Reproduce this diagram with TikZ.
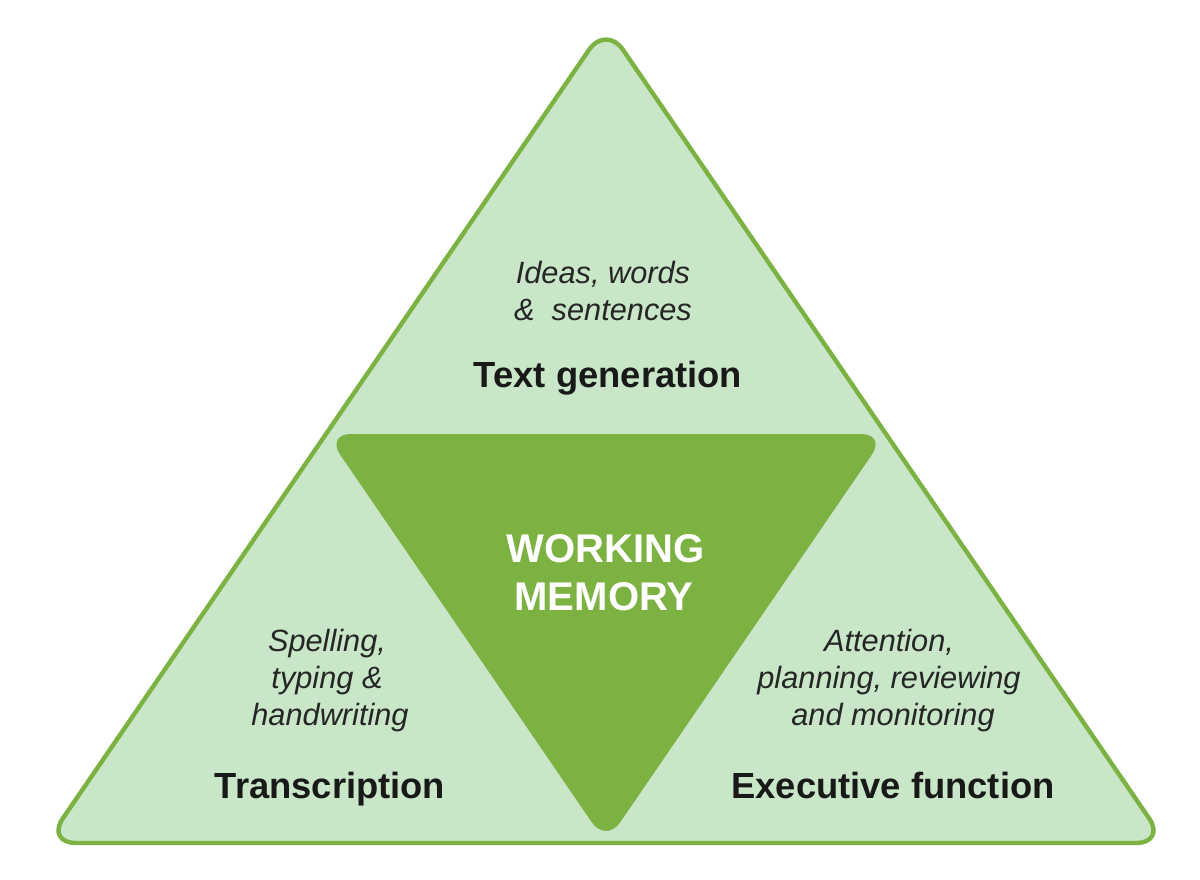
\documentclass[tikz,border=0pt]{standalone}
\usepackage{fontspec}
\setmainfont{Liberation Sans}
\usepackage{xcolor}
\usetikzlibrary{calc}
\definecolor{leaf}{RGB}{124,178,66}
\definecolor{mint}{RGB}{201,230,200}

\begin{document}
\begin{tikzpicture}[x=0.02cm, y=-0.02cm,
        note/.style={font=\fontsize{17.5}{21}\selectfont\itshape, text=black!85, anchor=base, inner sep=0pt},
        title/.style={font=\fontsize{20.7}{25}\selectfont\bfseries, text=black!90, anchor=base, inner sep=0pt},
        core/.style={font=\fontsize{22.8}{27}\selectfont\bfseries, text=white, anchor=base, inner sep=0pt}]
        \useasboundingbox (0,0) rectangle (1200,879);
        \coordinate (top) at (606,25);
        \coordinate (left) at (46,843);
        \coordinate (right) at (1166,843);
        \coordinate (ml) at ($(top)!0.5!(left)$);
        \coordinate (mr) at ($(top)!0.5!(right)$);
        \coordinate (mb) at ($(left)!0.5!(right)$);
        \draw[leaf, fill=mint, line width=2.5pt, rounded corners=0.6cm] (top) -- (left) -- (right) -- cycle;
        \fill[leaf, rounded corners=0.5cm] (ml) -- (mr) -- (mb) -- cycle;
        \node[note] (ideas) at (603,283) {Ideas, words};
        \node[note] (sentences) at (603,320) {\& \ sentences};
        \node[title] (textgen) at (608,387) {Text generation};
        \node[core] (working) at (606,562) {WORKING};
        \node[core] (memory) at (604,610) {MEMORY};
        \node[note] (spelling) at (327,651) {Spelling,};
        \node[note] (typing) at (327,688) {typing \&};
        \node[note] (handwriting) at (330,725) {handwriting};
        \node[title] (transcription) at (330,798) {Transcription};
        \node[note] (attention) at (889,651) {Attention,};
        \node[note] (planning) at (889,688) {planning, reviewing};
        \node[note] (monitoring) at (893,725) {and monitoring};
        \node[title] (executive) at (893,798) {Executive function};
    \end{tikzpicture}
\end{document}
